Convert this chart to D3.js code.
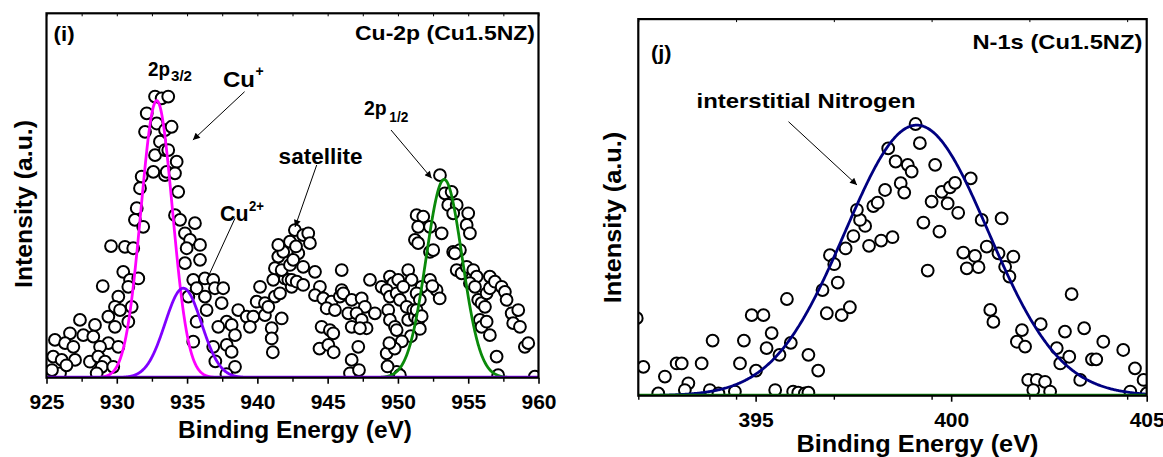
<!DOCTYPE html>
<html>
<head>
<meta charset="utf-8">
<script src="https://cdn.jsdelivr.net/npm/d3@7"></script>
<style>
  body { margin: 0; background: #fff; }
  svg text { font-family: Arial, "Liberation Sans", sans-serif; font-weight: bold; fill: #000; }
</style>
</head>
<body>
<svg id="chart" width="1163" height="457"></svg>
<script>
// Cu-2p spectrum of Cu1.5NZ : [binding energy (eV), intensity (a.u.)]
const cu2pData = [
  [932.72,77.3],[933.19,76.8],[933.66,77.3],[932.13,72.7],[932.84,69.9],[933.43,68.1],[932.01,67.6],[933.07,64.9],
  [932.72,61.2],[933.43,62.6],[932.60,56.6],[931.77,55.3],[931.65,52.1],[933.43,55.7],[931.42,46.6],[931.29,43.4],
  [931.88,41.5],[929.59,36.2],[930.58,36.0],[931.17,35.6],[930.46,29.1],[930.94,26.9],[931.53,27.3],[929.00,25.2],
  [930.11,22.3],[930.82,25.0],[931.06,19.5],[929.87,19.5],[930.23,18.6],[929.40,16.8],[929.87,14.0],[930.82,15.4],
  [927.38,15.9],[928.45,14.5],[926.67,12.2],[927.62,11.7],[928.33,11.3],[925.60,10.4],[926.32,9.5],[926.91,8.5],
  [929.40,9.5],[928.81,8.5],[930.11,8.5],[925.48,5.8],[926.08,4.9],[927.03,4.9],[928.09,4.4],[928.68,5.8],
  [929.16,4.4],[925.96,1.2],[928.93,3.0],[929.75,3.0],[928.57,1.2],[925.39,2.1],[926.42,3.4],
  [933.90,69.0],[933.66,62.6],[934.26,59.4],[933.55,56.6],[934.14,56.2],[934.37,51.1],[934.14,44.7],[934.50,43.4],
  [935.56,42.5],[934.85,39.7],[935.21,37.9],[935.92,36.5],[934.97,35.6],[935.92,32.4],[934.85,31.5],[935.44,26.9],
  [936.27,27.3],[936.86,26.9],[935.68,24.6],[936.98,24.6],[937.57,24.6],[936.27,22.3],[935.09,22.3],[937.46,20.5],
  [936.39,18.6],[938.64,18.6],[935.68,15.4],[937.82,15.4],[937.22,14.0],[938.17,14.5],[938.41,11.7],[935.44,9.9],
  [936.86,8.5],[937.82,9.0],[938.17,7.1],[938.41,3.0],[940.19,25.0],[939.95,20.9],[940.54,20.5],[939.24,16.8],
  [939.71,16.8],[940.54,17.2],[940.78,19.5],[939.47,14.0],[941.02,13.6],[941.73,16.3],[941.02,10.8],[941.25,22.3],
  [941.61,23.2],[941.13,26.9],[941.96,27.3],[941.25,30.1],[941.73,29.6],[942.32,31.0],[941.49,33.3],[941.84,34.6],
  [941.49,36.5],[942.32,37.4],[942.20,26.9],[942.44,25.0],[941.10,7.0],[937.01,4.5],[937.80,1.0],
  [942.67,40.6],[943.26,39.2],[943.62,39.7],[943.74,37.0],[942.91,34.2],[942.55,32.4],[943.26,30.5],[944.10,29.1],
  [942.44,26.9],[942.80,26.4],[943.26,25.5],[944.45,25.0],[944.10,22.7],[944.69,21.8],[945.28,20.9],[945.87,22.3],
  [944.93,19.1],[945.52,18.6],[946.00,24.1],[946.11,23.2],[946.00,29.6],[946.71,21.4],[947.42,21.8],[947.65,19.5],
  [946.47,17.7],[947.06,17.7],[948.36,17.7],[947.42,15.9],[947.77,13.6],[944.57,14.0],[945.16,13.1],[945.40,12.2],
  [946.71,14.0],[947.30,13.6],[947.18,8.5],[946.71,4.9],[946.59,1.2],[948.01,26.9],[948.84,25.0],[949.43,27.8],
  [949.67,26.0],[949.20,24.1],[949.43,22.3],[949.91,23.2],[950.73,29.6],[950.97,26.9],[950.02,26.9],[950.38,25.0],
  [950.14,21.4],[950.62,19.5],[951.09,18.6],[949.31,18.6],[949.43,15.9],[949.79,14.0],[949.91,13.1],[950.73,15.9],
  [951.21,16.8],[949.20,6.7],[949.91,1.6],[950.14,0.7],[944.42,8.0],[945.05,9.0],[945.43,7.0],[947.23,2.1],
  [949.26,3.1],[942.75,36.1],
  [952.99,55.7],[953.34,50.7],[953.82,51.1],[953.58,47.5],[954.18,47.5],[953.93,45.2],[955.00,45.2],[954.89,42.0],
  [955.12,39.7],[951.33,44.7],[951.80,44.3],[951.44,41.5],[952.28,41.5],[953.11,39.7],[951.21,37.9],[951.44,37.0],
  [952.28,34.6],[952.51,35.1],[953.93,34.6],[954.41,35.1],[954.05,34.2],[954.18,29.6],[954.53,28.7],[954.89,30.5],
  [955.36,29.6],[955.60,27.8],[955.12,26.0],[955.48,25.0],[952.28,26.9],[952.75,24.1],[951.69,25.0],[951.33,23.2],
  [951.56,21.4],[951.33,18.6],[951.44,15.9],[955.71,21.4],[955.95,20.5],[956.19,19.5],[956.31,23.2],[956.54,24.6],
  [956.54,27.8],[956.90,26.4],[957.38,25.0],[957.61,23.6],[957.73,21.4],[955.83,15.9],[955.95,14.0],[956.31,15.4],
  [956.54,11.7],[958.09,17.7],[958.56,18.6],[958.20,15.0],[958.68,14.0],[959.03,8.5],[959.27,9.5],[957.02,5.8],
  [957.13,0.7],[959.74,0.3],[952.97,21.8],[952.45,25.2],[951.69,16.9],[951.56,13.4],[950.92,11.4],[950.28,10.0],
  [949.77,8.0],[949.39,9.5]
]

// fitted Cu-2p components
const cu2pPeakNames = ['2p1/2', 'Cu+', 'Cu2+']
const cu2pPeakCenter = [953.29, 932.84, 934.73]
const cu2pPeakHeight = [54.5, 76.2, 24.6]
const cu2pPeakSigma = [1.28, 1.12, 1.3]

// N-1s spectrum of Cu1.5NZ
const n1sData = [
  [391.96,20.7],[392.13,7.7],[392.68,5.1],[392.98,8.6],[393.11,8.6],[392.51,0.6],[393.28,3.3],[393.19,1.5],
  [393.62,8.6],[393.83,1.5],[394.05,0.6],[393.90,14.7],[394.60,8.6],[394.47,1.1],[394.70,14.7],[395.01,6.7],
  [394.90,21.5],[395.20,21.5],[395.41,16.7],[395.28,12.7],[395.61,10.9],[395.90,14.1],[395.80,25.8],[395.50,1.5],
  [395.96,1.1],[396.09,0.8],[396.26,0.6],[396.35,10.9],[396.60,6.7],[396.35,0.8],[396.82,22.0],[397.20,21.5],
  [397.41,23.6],[396.71,28.2],[397.10,30.2],[396.90,37.5],[397.01,35.1],[397.30,39.3],[397.50,42.6],[397.80,45.3],
  [397.67,46.9],[397.59,49.6],[397.90,40.0],[398.21,41.4],[398.50,42.3],[398.01,50.6],[398.12,51.5],[398.31,54.9],
  [398.71,56.7],[398.80,54.2],[398.39,66.0],[398.58,62.5],[398.89,61.6],[398.99,59.8],[399.09,72.5],[399.20,67.4],
  [399.59,61.6],[399.50,51.8],[399.29,46.2],[399.70,43.8],[399.40,33.4],[399.76,54.4],[399.91,51.3],[399.97,55.6],
  [400.10,56.8],[400.18,48.8],[400.50,58.0],[400.78,46.9],[400.31,38.2],[400.61,37.3],[400.40,34.0],[400.70,34.3],
  [401.29,47.3],[400.91,39.8],[401.21,38.0],[401.59,37.1],[401.38,34.4],[401.49,31.8],[401.00,22.9],[401.08,19.7],
  [403.08,27.1],[401.81,17.5],[401.68,14.4],[401.89,13.1],[402.29,19.1],[402.70,12.7],[402.79,8.6],[403.02,10.4],
  [402.91,17.1],[403.40,18.0],[403.60,9.7],[403.71,9.7],[403.89,14.4],[403.30,4.2],[404.40,12.2],[404.70,7.3],
  [404.92,4.2],[404.58,1.1],[401.97,4.2],[402.19,4.2],[402.40,3.7],[402.10,1.5],[402.53,1.1],[405.00,0.6]
]

// fitted N-1s component
const n1sPeakNames = ['interstitial Nitrogen']
const n1sPeakCenter = [399.12]
const n1sPeakHeight = [72.2]
const n1sPeakSigma = [1.83]

// axes
const cu2pDomain = [925, 960]
const cu2pTicks = [925, 930, 935, 940, 945, 950, 955, 960]
const n1sDomain = [392, 405]
const n1sTicks = [395, 400, 405]

const svg = d3.select('#chart')

// arrow head
svg.append('defs').append('marker')
  .attr('id', 'head')
  .attr('viewBox', '0 0 10 10')
  .attr('refX', 10).attr('refY', 5)
  .attr('markerWidth', 9).attr('markerHeight', 7)
  .attr('markerUnits', 'userSpaceOnUse')
  .attr('orient', 'auto')
  .append('path').attr('d', 'M0,0 L10,5 L0,10 z').attr('fill', '#000')

const txt = (g, s, x, y, size, len, anchor) => {
  const t = g.append('text').attr('x', x).attr('y', y).attr('font-size', size).text(s)
  if (anchor) t.attr('text-anchor', anchor)
  if (len) t.attr('textLength', len).attr('lengthAdjust', 'spacingAndGlyphs')
  return t
}

const arrow = (g, x1, y1, x2, y2, head) => {
  g.append('line')
    .attr('x1', x1).attr('y1', y1).attr('x2', x2).attr('y2', y2)
    .attr('stroke', '#000').attr('stroke-width', 1)
    .attr('marker-end', head ? 'url(#head)' : null)
}

function drawPanel(p) {
  const x = d3.scaleLinear().domain(p.domain).range([p.left, p.right])
  const y = d3.scaleLinear().domain([0, p.yMax]).range([p.bottom, p.top])
  const g = svg.append('g')

  g.append('clipPath').attr('id', 'clip' + p.id)
    .append('rect')
    .attr('x', p.left).attr('y', p.top)
    .attr('width', p.right - p.left).attr('height', p.bottom - p.top)

  const plot = g.append('g').attr('clip-path', `url(#clip${p.id})`)

  // data points
  plot.selectAll('circle')
    .data(p.data)
    .enter().append('circle')
    .attr('cx', d => x(d[0]))
    .attr('cy', d => y(d[1]))
    .attr('r', 5.9)
    .attr('fill', '#fff')
    .attr('stroke', '#000')
    .attr('stroke-width', 2)

  // fitted peaks
  const grid = d3.range(p.domain[0], p.domain[1] + 0.001, 0.02)
  const line = d3.line().x(d => x(d[0])).y(d => y(d[1]))
  p.order.forEach(i => {
    const pts = grid.map(e => [e, p.height[i] * Math.exp(-Math.pow(e - p.center[i], 2) / (2 * p.sigma[i] * p.sigma[i]))])
    plot.append('path')
      .attr('d', line(pts))
      .attr('fill', 'none')
      .attr('stroke', p.colors[i])
      .attr('stroke-width', 2.8)
  })
  if (p.baseColor) {
    plot.append('line')
      .attr('x1', p.left).attr('x2', p.right)
      .attr('y1', y(0) - 0.5).attr('y2', y(0) - 0.5)
      .attr('stroke', p.baseColor).attr('stroke-width', 2.8)
  }

  // axes
  const minor = d3.range(p.domain[0], p.domain[1] + 0.001, 2.5).filter(v => p.ticks.indexOf(v) < 0)
  const xAxis = g.append('g')
    .attr('transform', `translate(0,${p.bottom})`)
    .call(d3.axisBottom(x).tickValues(p.ticks).tickSize(6).tickSizeOuter(0).tickPadding(10).tickFormat(d3.format('d')))
  xAxis.select('.domain').remove()
  xAxis.selectAll('line').attr('stroke-width', 1.6)
  xAxis.selectAll('text').attr('font-size', 21).attr('font-family', null)

  const xMinor = g.append('g')
    .attr('transform', `translate(0,${p.bottom})`)
    .call(d3.axisBottom(x).tickValues(minor).tickSize(4).tickFormat(''))
  xMinor.select('.domain').remove()
  xMinor.selectAll('line').attr('stroke-width', 1.4)

  const xTop = g.append('g')
    .attr('transform', `translate(0,${p.top})`)
    .call(d3.axisTop(x).tickValues(d3.range(p.domain[0], p.domain[1] + 0.001, 2.5)).tickSize(-3).tickFormat(''))
  xTop.select('.domain').remove()
  xTop.selectAll('line').attr('stroke-width', 1)

  // frame
  g.append('rect')
    .attr('x', p.left).attr('y', p.top)
    .attr('width', p.right - p.left).attr('height', p.bottom - p.top)
    .attr('fill', 'none').attr('stroke', '#000').attr('stroke-width', 2.2)

  // axis titles
  txt(g, 'Binding Energy (eV)', p.xTitle[0], p.xTitle[1], 24, p.xTitle[2], 'middle')
  txt(g, 'Intensity (a.u.)', -p.yTitle[1], p.yTitle[0], 24, p.yTitle[2], 'middle')
    .attr('transform', 'rotate(-90)')

  return g
}

// Cu-2p panel
const gi = drawPanel({
  id: 'i', data: cu2pData, domain: cu2pDomain, ticks: cu2pTicks, yMax: 100.2,
  left: 46.5, right: 538.5, top: 13.3, bottom: 377.7,
  center: cu2pPeakCenter, height: cu2pPeakHeight, sigma: cu2pPeakSigma,
  colors: ['#0a8a0a', '#ff00ff', '#8000ff'], order: [0, 1, 2], baseColor: '#8000ff',
  xTitle: [295, 437.5, 234], yTitle: [32, 204, 168]
})
txt(gi, '(i)', 53.6, 40.5, 20, 21)
txt(gi, 'Cu-2p (Cu1.5NZ)', 535, 40, 21, 180, 'end')
txt(gi, '2p', 148, 76, 21, 22)
txt(gi, '3/2', 171, 81, 14, 21)
txt(gi, 'Cu', 223, 86.5, 22, 32)
txt(gi, '+', 255.5, 76, 14)
txt(gi, 'satellite', 278.6, 163.5, 22, 84)
txt(gi, 'Cu', 220, 220.5, 22, 28.5)
txt(gi, '2+', 249, 211, 14, 15)
txt(gi, '2p', 364, 115, 21, 22.7)
txt(gi, '1/2', 389.3, 121.5, 14, 19)
arrow(gi, 244.6, 91.7, 192.9, 140, true)
arrow(gi, 316.7, 165, 295, 227, true)
arrow(gi, 235, 218.3, 206.7, 280, false)
arrow(gi, 391, 130, 431.7, 178.3, true)

// N-1s panel
const gj = drawPanel({
  id: 'j', data: n1sData, domain: n1sDomain, ticks: n1sTicks, yMax: 100.5,
  left: 638.3, right: 1146.7, top: 19.1, bottom: 395.7,
  center: n1sPeakCenter, height: n1sPeakHeight, sigma: n1sPeakSigma,
  colors: ['#000080'], order: [0], baseColor: '#0a8a0a',
  xTitle: [917.5, 452, 242], yTitle: [621, 217.5, 171.6]
})
txt(gj, '(j)', 651, 59.5, 20, 20.5)
txt(gj, 'N-1s (Cu1.5NZ)', 1142.4, 49, 21, 170, 'end')
txt(gj, n1sPeakNames[0], 696.6, 108, 21, 219)
arrow(gj, 788.5, 121.7, 857, 185, true)
</script>
</body>
</html>
